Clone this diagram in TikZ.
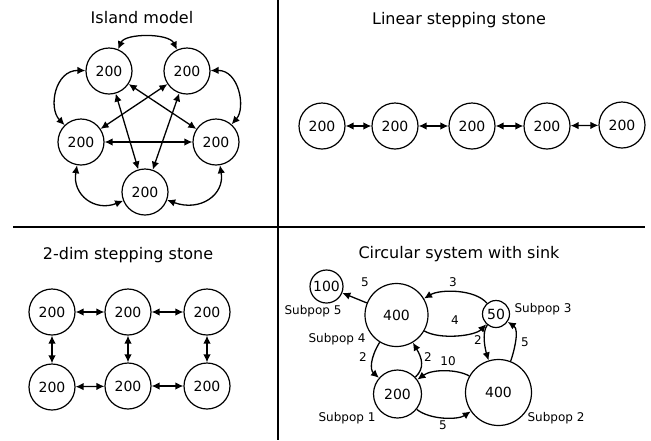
\documentclass[tikz,border=0pt]{standalone}
\usepackage{fontspec}
\setmainfont{DejaVu Sans}
\usetikzlibrary{arrows.meta}

\begin{document}
\begin{tikzpicture}[x=1pt,y=-1pt,
  pop/.style={circle,draw,line width=1.2pt,inner sep=0pt,
    font=\fontsize{14}{16}\selectfont},
  small/.style={pop,minimum size=46pt},
  title/.style={anchor=base,font=\fontsize{16}{18}\selectfont},
  sublabel/.style={anchor=base,font=\fontsize{12}{14}\selectfont},
  rate/.style={font=\fontsize{12}{14}\selectfont},
  tip/.style={line width=1.3pt,-{Latex[length=8pt,width=7.5pt]}},
  both/.style={line width=1.3pt,{Latex[length=8pt,width=7.5pt]}-{Latex[length=8pt,width=7.5pt]}},
  divider/.style={line width=1.5pt}
]
\useasboundingbox (0,0) rectangle (651,440);

% panel dividers
\coordinate (vtop) at (278,0);
\coordinate (vbot) at (278,440);
\coordinate (hl) at (13,227);
\coordinate (hr) at (645,227);
\draw[divider] (vtop) -- (vbot);
\draw[divider] (hl) -- (hr);

% ---------- island model ----------
\node[title] (t1) at (142,23) {Island model};
\node[small] (tl) at (109,71) {200};
\node[small] (tr) at (187,71) {200};
\node[small] (ml) at (81,142) {200};
\node[small] (mr) at (216,142) {200};
\node[small] (bm) at (145,192) {200};
% pentagram of direct links
\draw[both] (ml) -- (mr);
\draw[both] (tl) -- (mr);
\draw[both] (tr) -- (ml);
\draw[both] (tl) -- (bm);
\draw[both] (tr) -- (bm);
% outer ring
\draw[both] (tl) .. controls (125,33) and (169,33) .. (tr);
\draw[both] (tl) .. controls (55,70) and (48,108) .. (ml);
\draw[both] (tr) .. controls (239,70) and (246,108) .. (mr);
\draw[both] (ml) .. controls (72,195) and (95,212) .. (bm);
\draw[both] (mr) .. controls (225,195) and (200,212) .. (bm);

% ---------- linear stepping stone ----------
\node[title] (t2) at (459,24) {Linear stepping stone};
\node[small] (l1) at (322,126) {200};
\node[small] (l2) at (395,126) {200};
\node[small] (l3) at (472,126) {200};
\node[small] (l4) at (547,126) {200};
\node[small] (l5) at (622,125) {200};
\draw[both] (l1) -- (l2);
\draw[both] (l2) -- (l3);
\draw[both] (l3) -- (l4);
\draw[both] (l4) -- (l5);

% ---------- 2-dim stepping stone ----------
\node[title] (t3) at (128,259) {2-dim stepping stone};
\node[small] (a1) at (52,312) {200};
\node[small] (a2) at (128,312) {200};
\node[small] (a3) at (207,312) {200};
\node[small] (b1) at (52,387) {200};
\node[small] (b2) at (128,386) {200};
\node[small] (b3) at (207,386) {200};
\draw[both] (a1) -- (a2);
\draw[both] (a2) -- (a3);
\draw[both] (b1) -- (b2);
\draw[both] (b2) -- (b3);
\draw[both] (a1) -- (b1);
\draw[both] (a2) -- (b2);
\draw[both] (a3) -- (b3);

% ---------- circular system with sink ----------
\node[title] (t4) at (459,258) {Circular system with sink};
\node[pop,minimum size=33pt] (s5) at (326.5,286.5) {100};
\node[pop,minimum size=63pt] (s4) at (396.5,315) {400};
\node[pop,minimum size=27pt] (s3) at (496,314) {50};
\node[pop,minimum size=48pt] (s1) at (397.5,394) {200};
\node[pop,minimum size=66pt] (s2) at (498.5,392.5) {400};

\node[sublabel] (n5) at (313,314) {Subpop 5};
\node[sublabel] (n4) at (337,342) {Subpop 4};
\node[sublabel] (n3) at (543,312) {Subpop 3};
\node[sublabel] (n1) at (347,421) {Subpop 1};
\node[sublabel] (n2) at (556,421) {Subpop 2};

\draw[tip] (s4) -- (s5);
\draw[tip] (s3) .. controls (475,289) and (440,289) .. (s4);
\draw[tip] (s4) .. controls (440,340) and (475,336) .. (s3);
\draw[tip] (s3) .. controls (481,333) and (486,352) .. (s2);
\draw[tip] (s2) .. controls (513,355) and (520,330) .. (s3);
\draw[tip] (s4) .. controls (370,358) and (370,370) .. (s1);
\draw[tip] (s1) .. controls (425,368) and (422,358) .. (s4);
\draw[tip] (s2) .. controls (457,369) and (432,369) .. (s1);
\draw[tip] (s1) .. controls (430,420) and (458,420) .. (s2);

\node[rate] (r45) at (365,282) {5};
\node[rate] (r34) at (453,282) {3};
\node[rate] (r43) at (455,320) {4};
\node[rate] (r32) at (478,340) {2};
\node[rate] (r23) at (525,342) {5};
\node[rate] (r41) at (363,357) {2};
\node[rate] (r14) at (428,357) {2};
\node[rate] (r21) at (448,361) {10};
\node[rate] (r12) at (443,425) {5};
\end{tikzpicture}
\end{document}
